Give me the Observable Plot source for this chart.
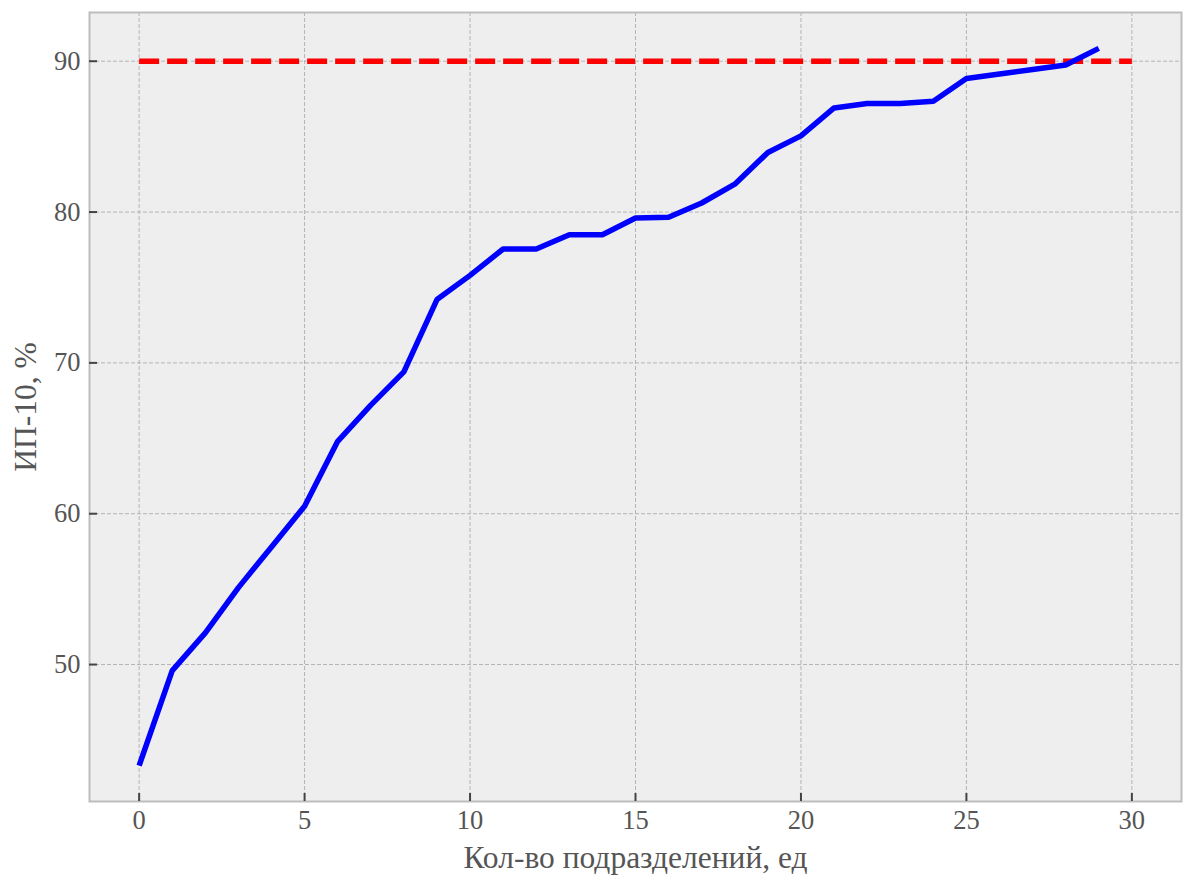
<!DOCTYPE html>
<html>
<head>
<meta charset="utf-8">
<script src="https://cdn.jsdelivr.net/npm/d3@7"></script>
<script src="https://cdn.jsdelivr.net/npm/@observablehq/plot@0.6"></script>
<style>
  html, body { margin: 0; padding: 0; background: #ffffff; }
  #chart { width: 1184px; height: 875px; }
</style>
</head>
<body>
<div id="chart"></div>
<script>
// Number of subdivisions (x) and IP-10 values (%)
const units = [0, 1, 2, 3, 4, 5, 6, 7, 8, 9, 10, 11, 12, 13, 14, 15, 16, 17, 18, 19, 20, 21, 22, 23, 24, 25, 26, 27, 28, 29];
const ipValues = [43.3, 49.6, 52.1, 55.1, 57.8, 60.5, 64.8, 67.2, 69.4, 74.2, 75.8, 77.55, 77.55, 78.5, 78.5, 79.6, 79.65, 80.6, 81.85, 83.95, 85.05, 86.9, 87.2, 87.2, 87.35, 88.85, 89.15, 89.45, 89.75, 90.85];
// Target line
const targetX = [0, 30];
const targetValue = 90;
// Ticks and labels
const xTicks = [0, 5, 10, 15, 20, 25, 30];
const yTicks = [50, 60, 70, 80, 90];
const xLabel = "Кол-во подразделений, ед";
const yLabel = "ИП-10, %";

const data = units.map((u, i) => ({x: u, y: ipValues[i]}));
const target = targetX.map(x => ({x, y: targetValue}));

const font = "'Liberation Serif', 'Times New Roman', serif";

const W = 1184, H = 875, mL = 89, mR = 3, mT = 12, mB = 74, tickLen = 8;

const chart = Plot.plot({
  width: W,
  height: H,
  marginLeft: mL,
  marginRight: mR,
  marginTop: mT,
  marginBottom: mB,
  style: {fontFamily: font, color: "#555", background: "#ffffff"},
  x: {domain: [-1.5, 31.5], ticks: xTicks},
  y: {domain: [40.92, 93.23], ticks: yTicks},
  marks: [
    Plot.frame({fill: "#eeeeee", stroke: null}),
    Plot.gridX(xTicks, {stroke: "#b4b4b4", strokeOpacity: 1, strokeWidth: 1, strokeDasharray: "4,2"}),
    Plot.gridY(yTicks, {stroke: "#b4b4b4", strokeOpacity: 1, strokeWidth: 1, strokeDasharray: "4,2"}),
    Plot.line(target, {x: "x", y: "y", stroke: "#ff0000", strokeWidth: 5.5, strokeDasharray: "20,8", strokeLinecap: "butt"}),
    Plot.line(data, {x: "x", y: "y", stroke: "#0000ff", strokeWidth: 5.5, strokeLinejoin: "miter", strokeLinecap: "butt"}),
    Plot.frame({stroke: "#bdbdbd", strokeWidth: 2}),
    // inward tick marks
    Plot.ruleX(xTicks, {x: d => d, insetTop: (H - mT - mB) - tickLen, stroke: "#444", strokeWidth: 2}),
    Plot.ruleY(yTicks, {y: d => d, insetRight: (W - mL - mR) - tickLen, stroke: "#444", strokeWidth: 2}),
    // tick labels
    Plot.axisX(xTicks, {anchor: "bottom", tickSize: 0, tickPadding: 9, fontSize: 26.5, label: null}),
    Plot.axisY(yTicks, {anchor: "left", tickSize: 0, tickPadding: 9, fontSize: 26.5, label: null}),
    Plot.text([xLabel], {text: d => d, frameAnchor: "bottom", textAnchor: "middle", dy: 56, fontSize: 31.5, fill: "#555", lineAnchor: "middle"}),
    Plot.text([yLabel], {text: d => d, frameAnchor: "left", textAnchor: "middle", dx: -64, rotate: -90, fontSize: 31.5, fill: "#555", lineAnchor: "middle"})
  ]
});

document.getElementById("chart").appendChild(chart);
</script>
</body>
</html>
